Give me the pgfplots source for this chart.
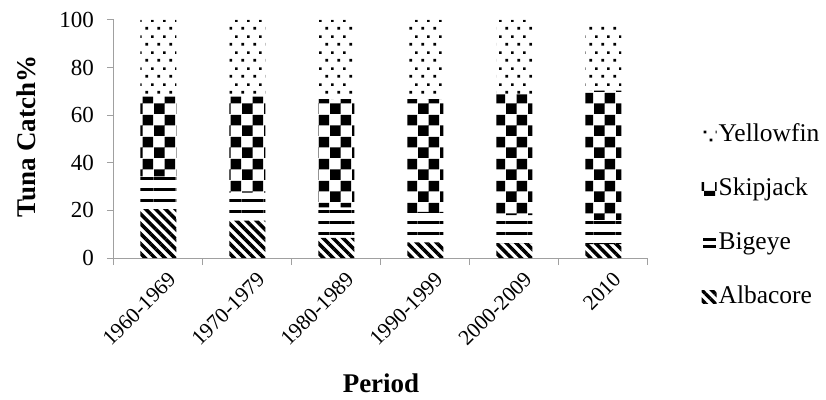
\documentclass[border=0pt]{standalone}
\usepackage{pgfplots}
\pgfplotsset{compat=1.18}
\usepackage{fontspec}
\setmainfont{Liberation Serif}
\usetikzlibrary{patterns,patterns.meta}
\definecolor{axgray}{RGB}{160,160,160}

\pgfdeclarepatternformonly{checker}{\pgfpoint{0bp}{0bp}}{\pgfpoint{22bp}{22bp}}{\pgfpoint{22bp}{22bp}}{%
  \pgfpathrectangle{\pgfpoint{0bp}{0bp}}{\pgfpoint{11bp}{11bp}}%
  \pgfpathrectangle{\pgfpoint{11bp}{11bp}}{\pgfpoint{11bp}{11bp}}%
  \pgfusepath{fill}}
\pgfdeclarepatternformonly{hlines}{\pgfpoint{0bp}{0bp}}{\pgfpoint{22bp}{11bp}}{\pgfpoint{22bp}{11bp}}{%
  \pgfpathrectangle{\pgfpoint{-0.5bp}{0bp}}{\pgfpoint{23bp}{3bp}}%
  \pgfusepath{fill}}
\pgfdeclarepatternformonly{sdots}{\pgfpoint{0bp}{0bp}}{\pgfpoint{12bp}{16bp}}{\pgfpoint{12bp}{16bp}}{%
  \pgfpathrectangle{\pgfpoint{1.6bp}{2.6bp}}{\pgfpoint{2.8bp}{2.8bp}}%
  \pgfpathrectangle{\pgfpoint{7.6bp}{10.6bp}}{\pgfpoint{2.8bp}{2.8bp}}%
  \pgfusepath{fill}}

\pgfplotstableread{
x Albacore Bigeye Skipjack Yellowfin
1 20.5 13.8 33.5 32.2
2 15.7 11.8 40.3 32.2
3 8.5 12.8 45.5 33.2
4 6.6 12.8 47.4 33.2
5 6.3 11.7 50.8 31.2
6 5.8 10.2 54.3 28.7
}\datatable

\begin{document}
\begin{tikzpicture}
\path[use as bounding box] (-114bp,-142bp) rectangle (712bp,258bp);
\begin{axis}[
  scale only axis, width=534bp, height=238bp,
  ybar stacked, bar width=36bp,
  xmin=0.5, xmax=6.5, ymin=0, ymax=100,
  xtick={1,...,6},
  xticklabels={1960-1969,1970-1979,1980-1989,1990-1999,2000-2009,2010},
  minor xtick={0.5,1.5,...,6.5},
  ytick={0,20,...,100},
  axis x line*=bottom, axis y line*=left,
  axis line style={axgray, line width=1bp},
  every tick/.style={axgray, line width=1bp},
  major x tick style={draw=none},
  tick align=outside, major tick length=7bp, minor tick length=7bp,
  /pgf/number format/assume math mode=true,
  x tick label style={font=\fontsize{21.5bp}{26bp}\selectfont, rotate=45, anchor=north east, inner sep=1bp, xshift=3bp, yshift=-9bp},
  y tick label style={font=\fontsize{23bp}{27bp}\selectfont, anchor=east, inner sep=0bp, xshift=-13bp},
  xlabel={\textbf{Period}},
  ylabel={\textbf{Tuna Catch\%}},
  label style={font=\fontsize{27bp}{32bp}\selectfont},
  xlabel style={at={(axis description cs:0.5,-0.525)}, anchor=center, inner sep=0pt},
  ylabel style={at={(axis description cs:-0.165,0.51)}, anchor=center},
  reverse legend,
  legend style={at={(axis description cs:1.10,0.176)}, anchor=west, draw=none, fill=none,
    font=\fontsize{25.5bp}{30bp}\selectfont, row sep=26bp, inner sep=0pt,
    nodes={text height=18bp, text depth=6bp}},
  legend cell align=left,
  legend image code/.code={\path[#1, draw=none] (0bp,-6bp) rectangle (15bp,7bp);},
]
\addplot[draw=none, pattern={Lines[angle=-45,distance=7bp,line width=3.5bp]}] table[x=x,y=Albacore] {\datatable};
\addplot[draw=none, pattern=hlines,
  legend image code/.code={\fill[black] (1bp,-5bp) rectangle (14bp,-2bp); \fill[black] (1bp,2bp) rectangle (14bp,5bp);}] table[x=x,y=Bigeye] {\datatable};
\addplot[draw=none, pattern=checker] table[x=x,y=Skipjack] {\datatable};
\addplot[draw=none, pattern=sdots] table[x=x,y=Yellowfin] {\datatable};
\legend{Albacore,Bigeye,Skipjack,Yellowfin}
\end{axis}
\end{tikzpicture}
\end{document}
